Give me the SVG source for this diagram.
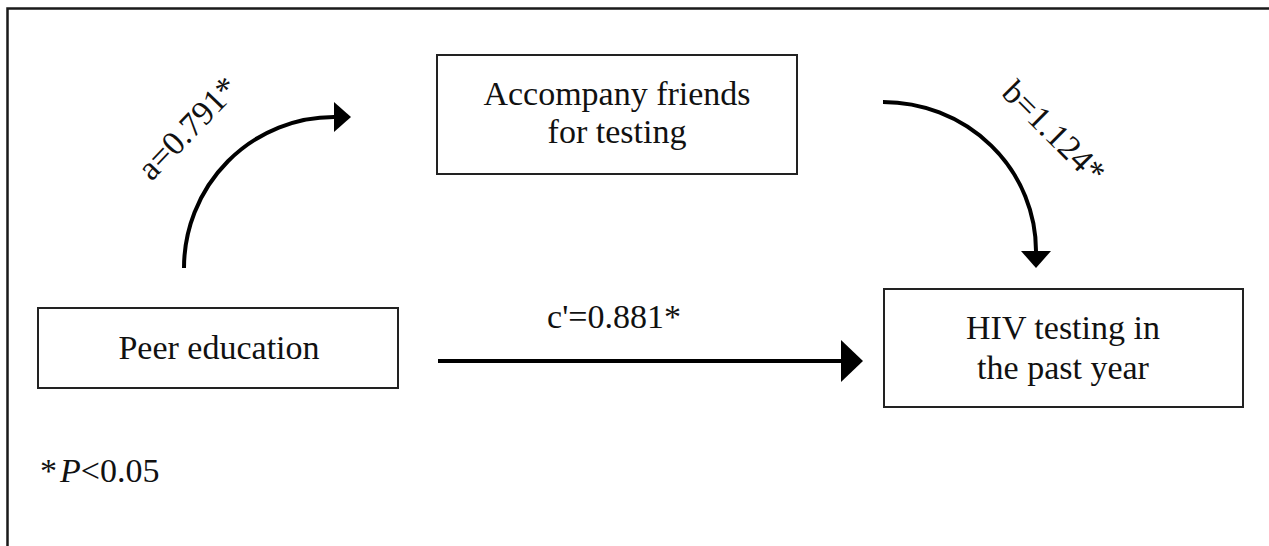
<svg xmlns="http://www.w3.org/2000/svg" width="1269" height="546" viewBox="0 0 1269 546">
<style>
.box{fill:#fff;stroke:#222;stroke-width:2}
.lbl{font-family:"Liberation Serif","Times New Roman",serif;font-size:34px;fill:#111;text-anchor:middle}
.conn{fill:none;stroke:#000;stroke-width:4}
</style>
<defs>
<marker id="bigHead" markerUnits="userSpaceOnUse" markerWidth="22" markerHeight="42" viewBox="0 0 22 42" refX="0" refY="21" orient="auto">
<path d="M0,0 L22,21 L0,42 Z" fill="#000"/>
</marker>
<marker id="smallHead" markerUnits="userSpaceOnUse" markerWidth="17" markerHeight="30" viewBox="0 0 17 30" refX="0" refY="15" orient="auto">
<path d="M0,0 L17,15 L0,30 Z" fill="#000"/>
</marker>
</defs>
<rect width="1269" height="546" fill="#fff"/>
<path d="M7.5,546 L7.5,8.5 L1269,8.5" fill="none" stroke="#1a1a1a" stroke-width="2.5"/>
<g id="node-accompany">
<rect class="box" x="437" y="55" width="360" height="119"/>
<text class="lbl" x="617" y="105">Accompany friends</text>
<text class="lbl" x="617" y="143">for testing</text>
</g>
<g id="node-peer">
<rect class="box" x="38" y="308" width="360" height="80"/>
<text class="lbl" x="219" y="359">Peer education</text>
</g>
<g id="node-hiv">
<rect class="box" x="884" y="289" width="359" height="118"/>
<text class="lbl" x="1063" y="339">HIV testing in</text>
<text class="lbl" x="1063" y="379">the past year</text>
</g>
<g id="connectors">
<path class="conn" d="M184,268 A150,151 0 0 1 334,117" marker-end="url(#smallHead)"/>
<path class="conn" d="M883,102 A153,149 0 0 1 1036,251" marker-end="url(#smallHead)"/>
<path class="conn" d="M438,361 L841,361" marker-end="url(#bigHead)"/>
<text class="lbl" x="196" y="136" transform="rotate(-46 196 136)">a=0.791*</text>
<text class="lbl" x="1046" y="140" transform="rotate(45 1046 140)">b=1.124*</text>
<text class="lbl" x="614" y="328">c'=0.881*</text>
</g>
<text class="lbl" x="40" y="482" style="text-anchor:start">*<tspan font-style="italic" dx="3">P</tspan>&lt;0.05</text>
</svg>
